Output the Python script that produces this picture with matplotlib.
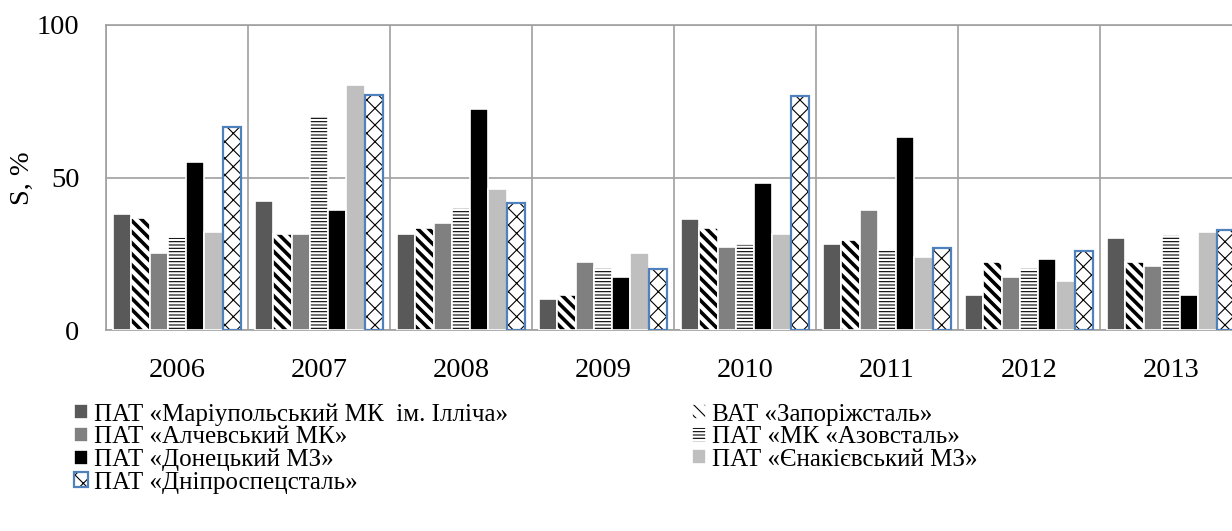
import matplotlib
matplotlib.use("Agg")
import matplotlib.pyplot as plt
import numpy as np

plt.rcParams['font.family'] = ['Liberation Serif', 'DejaVu Serif']

years = ["2006", "2007", "2008", "2009", "2010", "2011", "2012", "2013"]
names = [
    "ПАТ «Маріупольський МК  ім. Ілліча»",
    "ВАТ «Запоріжсталь»",
    "ПАТ «Алчевський МК»",
    "ПАТ «МК «Азовсталь»",
    "ПАТ «Донецький МЗ»",
    "ПАТ «Єнакієвський МЗ»",
    "ПАТ «Дніпроспецсталь»",
]
mariupol    = [38.0, 42.3, 31.4, 10.1, 36.4, 28.2, 11.4, 30.1]
zaporizh    = [36.6, 31.4, 33.6, 11.5, 33.6, 29.5, 22.3, 22.3]
alchevsk    = [25.3, 31.4, 35.2, 22.2, 27.1, 39.3, 17.5, 21.1]
azovstal    = [30.4, 70.2, 40.1, 20.4, 28.1, 26.2, 20.2, 31.1]
donetsk     = [55.2, 39.3, 72.3, 17.3, 48.3, 63.4, 23.3, 11.5]
yenakiieve  = [32.2, 80.3, 46.1, 25.3, 31.4, 24.0, 16.2, 32.2]
dnipro      = [66.7, 77.0, 41.7, 19.9, 76.8, 26.8, 26.0, 32.8]
series = [mariupol, zaporizh, alchevsk, azovstal, donetsk, yenakiieve, dnipro]

faces   = ['#595959', 'white', '#808080', 'white', '#000000', '#BFBFBF', 'white']
hatches = [None, '\\\\\\', None, '-----', None, None, 'xx']
hlw     = [1.0, 2.6, 1.0, 0.8, 1.0, 1.0, 0.8]
edges   = ['white', 'white', 'white', 'white', 'white', 'white', '#4F81BD']
elw     = [1.2, 1.2, 1.2, 1.2, 1.2, 1.2, 1.6]

W, H = 1232, 531
fig = plt.figure(figsize=(W / 100, H / 100), dpi=100)
ax = fig.add_axes([106 / W, 1 - 330 / H, 1136 / W, 305 / H])

x = np.arange(len(years))
pitch = 0.129
handles = []
for i, vals in enumerate(series):
    off = (i - 3) * pitch
    plt.rcParams['hatch.linewidth'] = hlw[i]
    bars = ax.bar(x + off, vals, width=pitch, color=faces[i], edgecolor=edges[i],
                  linewidth=elw[i], hatch=hatches[i], label=names[i], zorder=3)
    for b in bars:
        if hasattr(b, 'set_hatch_linewidth'):
            b.set_hatch_linewidth(hlw[i])
        if hatches[i] is not None:
            try:
                b._hatch_color = matplotlib.colors.to_rgba('black')
            except Exception:
                pass
    handles.append(bars)

ax.set_xlim(-0.5, 7.5)
ax.set_ylim(0, 100)
ax.set_yticks([0, 50, 100])
ax.set_xticks(x)
ax.set_xticklabels(years)
ax.set_xticks(np.arange(-0.5, 8.0, 1.0), minor=True)
ax.tick_params(axis='both', which='both', length=0, labelsize=20.5)
ax.tick_params(axis='y', pad=19)
ax.tick_params(axis='x', pad=20)
ax.grid(True, axis='y', which='major', color='#A0A0A0', linewidth=1.2, zorder=0)
ax.grid(True, axis='x', which='minor', color='#A0A0A0', linewidth=1.2, zorder=0)
for s in ax.spines.values():
    s.set_color('#A0A0A0')
    s.set_linewidth(1.2)

fig.text(22 / W, 1 - 178 / H, "S, %", rotation=90, ha='center', va='center', fontsize=20.5)

order = [0, 2, 4, 6, 1, 3, 5]
leg = fig.legend([handles[k] for k in order], [names[k] for k in order],
                 ncol=2, loc='upper left', bbox_to_anchor=(74 / W, 1 - 403 / H),
                 frameon=False, fontsize=18, handlelength=0.55, handleheight=0.55,
                 handletextpad=0.25, labelspacing=0.02, columnspacing=7.35,
                 borderpad=0, borderaxespad=0)

fig.savefig("out.png", dpi=100)
